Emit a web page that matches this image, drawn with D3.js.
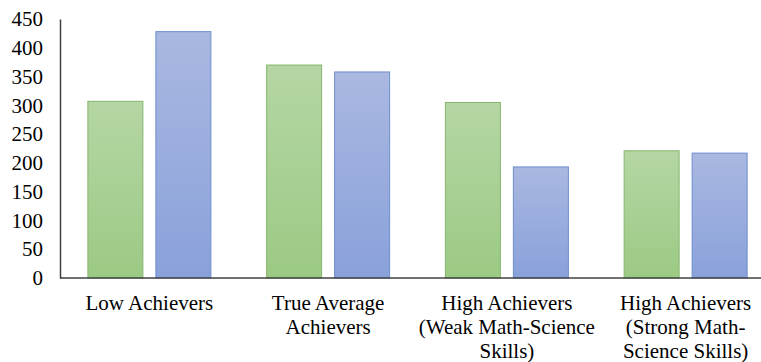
<!DOCTYPE html>
<html>
<head>
<meta charset="utf-8">
<script src="https://cdn.jsdelivr.net/npm/d3@7"></script>
<style>
  body { margin: 0; background: #fff; }
  text { font-family: 'Liberation Serif', 'Times New Roman', serif; fill: #000; }
</style>
</head>
<body>
<svg id="chart"></svg>
<script>
var categories = [
  ["Low Achievers"],
  ["True Average", "Achievers"],
  ["High Achievers", "(Weak Math-Science", "Skills)"],
  ["High Achievers", "(Strong Math-", "Science Skills)"]
];
var seriesNames = ["green", "blue"];
var greenValues = [307, 370, 305, 221];
var blueValues = [428, 358, 193, 217];
var yTicks = [0, 50, 100, 150, 200, 250, 300, 350, 400, 450];

var dimensions = {
  width: 761,
  height: 362,
  left: 60,
  right: 775,
  top: 19,
  bottom: 278
};

var svg = d3.select("#chart")
  .attr("width", dimensions.width)
  .attr("height", dimensions.height);

var defs = svg.append("defs");
var gradients = {
  green: { top: "#b5d6a4", bottom: "#9bca84", stroke: "#86b66e" },
  blue: { top: "#aab8e1", bottom: "#89a1da", stroke: "#6d8dcd" }
};
seriesNames.forEach(function (s) {
  var g = defs.append("linearGradient")
    .attr("id", "grad-" + s)
    .attr("x1", 0).attr("y1", 0).attr("x2", 0).attr("y2", 1);
  g.append("stop").attr("offset", "0%").attr("stop-color", gradients[s].top);
  g.append("stop").attr("offset", "100%").attr("stop-color", gradients[s].bottom);
});

var data = categories.map(function (c, i) {
  return { key: i, label: c, green: greenValues[i], blue: blueValues[i] };
});

var xScale = d3.scaleBand()
  .domain(data.map(function (d) { return d.key; }))
  .range([dimensions.left, dimensions.right]);

var xInner = d3.scaleBand()
  .domain(seriesNames)
  .range([-61.5, 61.5])
  .paddingInner(13 / 68);

var yScale = d3.scaleLinear()
  .domain([0, 450])
  .range([dimensions.bottom, dimensions.top]);

var groups = svg.selectAll("g.group")
  .data(data)
  .enter()
  .append("g")
  .attr("class", "group")
  .attr("transform", function (d) {
    return "translate(" + (xScale(d.key) + xScale.bandwidth() / 2) + ",0)";
  });

groups.selectAll("rect")
  .data(function (d) {
    return seriesNames.map(function (s) { return { s: s, v: d[s] }; });
  })
  .enter()
  .append("rect")
  .attr("x", function (d) { return xInner(d.s); })
  .attr("y", function (d) { return yScale(d.v); })
  .attr("width", xInner.bandwidth())
  .attr("height", function (d) { return yScale(0) - yScale(d.v); })
  .attr("fill", function (d) { return "url(#grad-" + d.s + ")"; })
  .attr("stroke", function (d) { return gradients[d.s].stroke; })
  .attr("stroke-width", 1);

// y axis, no tick marks
var yAxis = svg.append("g")
  .attr("transform", "translate(" + dimensions.left + ",0)")
  .call(d3.axisLeft(yScale).tickValues(yTicks).tickSize(0).tickSizeOuter(0).tickPadding(17));
yAxis.select(".domain").attr("stroke", "#404040").attr("stroke-width", 1.5);
yAxis.selectAll("text")
  .style("font-family", "'Liberation Serif', 'Times New Roman', serif")
  .style("font-size", "21px")
  .attr("fill", "#000");

// x axis line runs off the right edge
svg.append("line")
  .attr("x1", dimensions.left)
  .attr("x2", dimensions.width)
  .attr("y1", yScale(0))
  .attr("y2", yScale(0))
  .attr("stroke", "#404040")
  .attr("stroke-width", 1.5);

var labels = svg.selectAll("text.cat")
  .data(data)
  .enter()
  .append("text")
  .attr("class", "cat")
  .attr("text-anchor", "middle")
  .style("font-size", "21px")
  .attr("transform", function (d) {
    return "translate(" + (xScale(d.key) + xScale.bandwidth() / 2) + ",310)";
  });

labels.selectAll("tspan")
  .data(function (d) { return d.label; })
  .enter()
  .append("tspan")
  .attr("x", 0)
  .attr("y", function (d, i) { return i * 24; })
  .text(function (d) { return d; });
</script>
</body>
</html>
